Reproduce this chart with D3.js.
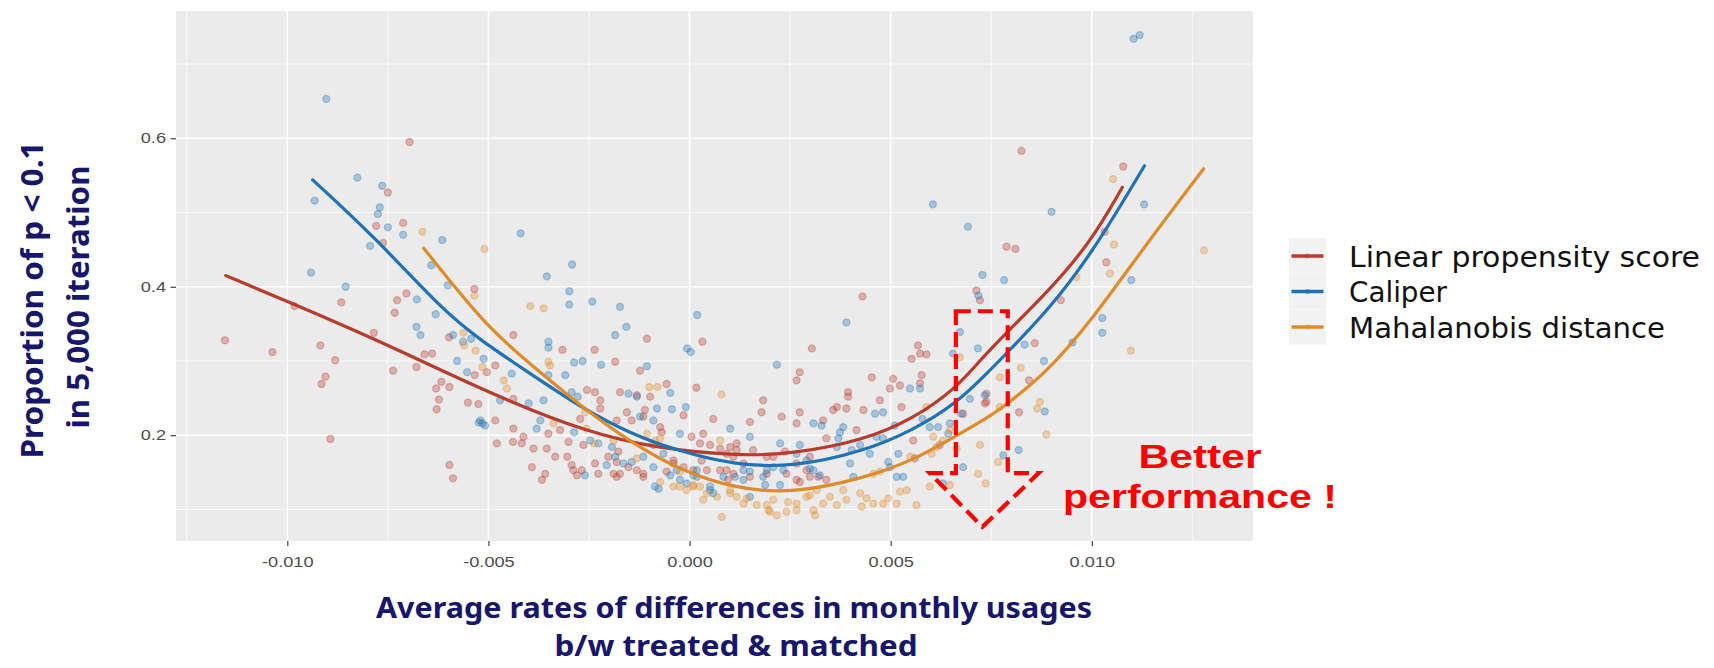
<!DOCTYPE html>
<html><head><meta charset="utf-8">
<script src="https://cdn.jsdelivr.net/npm/d3@7"></script>
<style>body{margin:0;background:#fff}</style>
</head><body>
<svg id="chart" width="1714" height="668"></svg>
<script>
// ---------- data ----------
const seriesNames = ["Linear propensity score", "Caliper", "Mahalanobis distance"];
const seriesColors = ["#B83B2E", "#1F72B5", "#E08B2A"];

const xTicks = [-0.010, -0.005, 0.000, 0.005, 0.010];
const xTickLabels = ["-0.010", "-0.005", "0.000", "0.005", "0.010"];
const xMinorTicks = [-0.0125, -0.0075, -0.0025, 0.0025, 0.0075, 0.0125];
const yTicks = [0.2, 0.4, 0.6];
const yTickLabels = ["0.2", "0.4", "0.6"];
const yMinorTicks = [0.1, 0.3, 0.5, 0.7];

const xTitle = ["Average rates of differences in monthly usages", "b/w treated & matched"];
const yTitle = ["Proportion of p < 0.1", "in 5,000 iteration"];
const noteText = ["Better", "performance !"];

const linearPoints = [
[-0.00696,0.595],[-0.0075,0.527],[-0.00779,0.482],[-0.00762,0.459],[-0.00712,0.486],[-0.01155,0.328],[-0.01037,0.312],[-0.00918,0.321],[-0.00881,0.301],[-0.00905,0.279],[-0.00915,0.269],[-0.00866,0.379],[-0.00893,0.195],[-0.00785,0.338],[-0.00727,0.382],[-0.00704,0.391],[-0.00733,0.365],[-0.00737,0.287],[-0.00679,0.292],[-0.00659,0.309],[-0.0064,0.310],[-0.00617,0.272],[-0.0063,0.263],[-0.00597,0.265],[-0.00623,0.248],[-0.00629,0.235],[-0.00551,0.244],[-0.00525,0.242],[-0.00534,0.281],[-0.00597,0.160],[-0.00588,0.142],[-0.00535,0.397],[-0.00982,0.374],[-0.00598,0.332],
[-0.00106,0.330],[0.00032,0.326],[-0.00316,0.315],[-0.00236,0.315],[-0.00185,0.299],[-0.00123,0.287],[-0.00057,0.269],[0.00017,0.264],
[-0.00438,0.335],[-0.00483,0.294],[-0.00504,0.285],[-0.00438,0.249],[-0.00483,0.220],[-0.00438,0.209],[-0.00413,0.198],[-0.00479,0.189],[-0.00439,0.191],[-0.00417,0.189],[-0.00388,0.182],[-0.00355,0.182],[-0.00334,0.171],[-0.00351,0.202],[-0.00322,0.207],[-0.00301,0.191],[-0.00304,0.171],[-0.00272,0.222],[-0.00255,0.261],[-0.00235,0.258],[-0.00222,0.247],[-0.00222,0.236],[-0.00264,0.187],[-0.00293,0.160],[-0.00289,0.153],[-0.00268,0.153],[-0.0028,0.146],[-0.00392,0.157],[-0.00359,0.148],[-0.00367,0.140],[-0.00235,0.162],[-0.00227,0.148],[-0.00202,0.171],[-0.00181,0.164],[-0.00173,0.148],[-0.00181,0.144],[-0.00152,0.157],[-0.00131,0.153],[-0.00115,0.148],[-0.00144,0.220],[-0.00156,0.231],[-0.00111,0.234],[-0.00115,0.225],[-0.00181,0.220],[-0.00173,0.258],[-0.00131,0.254],[-0.00098,0.252],[-0.00073,0.211],[-0.00069,0.204],[-0.0009,0.187],[-0.00015,0.227],[0.00005,0.198],[0.00026,0.189],[0.00051,0.187],[0.00076,0.182],[0.00092,0.175],[0.00109,0.171],[0.00059,0.222],[0.0003,0.166],[-0.00015,0.157],[0.00009,0.153],[-0.00057,0.151],[-0.0004,0.162],[0.00043,0.153],[0.00092,0.153],[0.00096,0.140],[-0.00177,0.178],
[0.00304,0.317],[0.00274,0.285],[0.00266,0.274],[0.00183,0.247],[0.00179,0.231],[0.0015,0.218],[0.00229,0.225],[0.00266,0.216],[0.00274,0.231],[0.00332,0.220],[0.0034,0.196],[0.00357,0.234],[0.00366,0.238],[0.0039,0.236],[0.00394,0.258],[0.00394,0.252],[0.00432,0.234],[0.00473,0.247],[0.00415,0.207],[0.00453,0.278],[0.00506,0.276],[0.00523,0.267],[0.00498,0.263],[0.00552,0.303],[0.00568,0.321],[0.00573,0.310],[0.00589,0.309],[0.00577,0.281],[0.00573,0.270],[0.00527,0.238],[0.0034,0.140],[0.00556,0.193],[0.0056,0.169],[0.00622,0.187],[0.0068,0.229],[0.00738,0.245],[0.00101,0.184],[0.00117,0.180],[0.00158,0.180],[0.00208,0.171],[0.00237,0.178],[0.00241,0.148],[0.00291,0.153],[0.00299,0.144],[0.00274,0.137],[0.00192,0.148],[0.0015,0.144],[0.00134,0.162],[0.0032,0.144],
[0.00825,0.583],[0.01078,0.562],[0.00788,0.454],[0.0081,0.451],[0.01036,0.433],[0.00923,0.382],[0.00858,0.324],[0.00844,0.274],[0.00819,0.231],[0.00734,0.243],[0.00722,0.382],[0.01032,0.474],
[0.00738,0.256],[0.00713,0.395],[0.0043,0.387],
[0.00117,0.189],[0.00034,0.202],[0.00192,0.171],[0.00299,0.171],[0.00266,0.162],[-0.00115,0.144],[-0.0004,0.166],[0.00076,0.153],[0.00109,0.148],[-0.00189,0.148],[0.00266,0.140]
];

const caliperPoints = [
[-0.00903,0.653],[-0.00826,0.547],[-0.00932,0.516],[-0.00764,0.536],[-0.0077,0.507],[-0.00775,0.498],[-0.0075,0.480],[-0.00712,0.470],[-0.00794,0.455],[-0.00615,0.463],[-0.00642,0.429],[-0.00941,0.419],[-0.00855,0.400],[-0.00601,0.402],[-0.00678,0.383],[-0.00631,0.363],[-0.00679,0.346],[-0.00669,0.335],[-0.00588,0.335],[-0.00563,0.326],[-0.00543,0.330],[-0.00578,0.300],[-0.00553,0.285],[-0.00524,0.217],[-0.00515,0.216],
[-0.0042,0.472],[-0.00355,0.414],[-0.00292,0.430],[-0.00299,0.394],[-0.00299,0.376],[-0.00242,0.380],[-0.00173,0.373],[-0.00157,0.346],[-0.00185,0.335],[0.00019,0.362],[-0.00006,0.317],[0.00003,0.312],[-0.00106,0.293],[-0.00351,0.326],[-0.00351,0.318],[-0.00287,0.298],[-0.00266,0.300],[-0.0022,0.295],
[-0.00309,0.281],[-0.00351,0.281],[-0.00442,0.283],[-0.00512,0.303],[-0.00363,0.247],[-0.004,0.243],[-0.00471,0.247],[-0.0052,0.220],[-0.00508,0.213],[-0.00293,0.258],[-0.00278,0.252],[-0.00152,0.256],[-0.00131,0.252],[-0.00081,0.236],[-0.00044,0.235],[-0.00009,0.238],[-0.00048,0.257],[-0.00371,0.220],[-0.0038,0.209],[-0.00287,0.204],[-0.00247,0.193],[-0.00227,0.189],[-0.00193,0.184],[-0.00185,0.171],[-0.00206,0.160],[-0.00164,0.162],[-0.00144,0.164],[-0.0009,0.157],[-0.00086,0.131],[-0.00077,0.128],[-0.00048,0.146],[-0.00024,0.140],[-0.00007,0.135],[0.00018,0.144],[0.00051,0.131],[0.00059,0.122],[-0.00024,0.202],[0.00101,0.209],[-0.0026,0.146],[0.00018,0.153],[0.00084,0.144],
[0.00217,0.295],[0.0015,0.198],[0.00308,0.216],[0.00328,0.213],[0.00374,0.204],[0.00382,0.211],[0.0037,0.196],[0.00366,0.184],[0.00403,0.180],[0.00424,0.187],[0.00448,0.175],[0.00465,0.198],[0.00481,0.196],[0.00461,0.229],[0.00481,0.231],[0.0051,0.213],[0.00519,0.175],[0.00494,0.164],[0.00498,0.157],[0.00531,0.144],[0.00515,0.144],[0.00548,0.263],[0.00573,0.263],[0.00579,0.222],[0.00597,0.211],[0.00618,0.211],[0.00647,0.216],[0.00676,0.229],[0.00697,0.249],[0.00655,0.310],[0.00672,0.339],[0.00717,0.317],[0.0068,0.157],[0.0063,0.135],[0.00225,0.189],[0.00274,0.187],[0.00266,0.175],[0.00291,0.166],[0.00308,0.153],[0.00233,0.153],[0.00208,0.157],[0.00183,0.144],[0.0015,0.151],[0.00134,0.140],[0.00113,0.144],[0.00188,0.133],[0.00225,0.133],[0.00324,0.146],[0.0015,0.117],[0.00399,0.162],[0.00407,0.144],
[0.01104,0.734],[0.01119,0.739],[0.009,0.501],[0.0113,0.511],[0.00728,0.416],[0.00782,0.409],[0.01098,0.409],[0.01026,0.358],[0.01026,0.338],[0.00833,0.322],[0.00881,0.300],[0.00952,0.325],[0.00883,0.232],[0.00818,0.180],[0.0078,0.173],[0.00734,0.254],
[0.00643,0.202],[0.00605,0.511],[0.00692,0.481],[0.00718,0.388],[0.0039,0.352],
[-0.00123,0.225],[-0.0009,0.220],[0.00051,0.126],[0.00009,0.146],[-0.00032,0.153],[0.00134,0.153],[0.00192,0.153],[0.00299,0.155],[-0.00115,0.171],[-0.00065,0.175]
];

const mahalanobisPoints = [
[-0.00664,0.474],[-0.0051,0.451],[-0.00535,0.388],[-0.00562,0.338],[-0.0056,0.321],[-0.00532,0.314],[-0.00515,0.292],
[-0.00396,0.374],[-0.00363,0.371],[-0.001,0.265],[-0.0008,0.265],[0.00079,0.255],
[-0.00351,0.299],[-0.00347,0.294],[-0.00462,0.274],[-0.00454,0.263],[-0.00338,0.216],[-0.0026,0.231],[-0.00106,0.202],[-0.00086,0.193],[-0.00073,0.196],[0.00076,0.193],[0.0008,0.090],[-0.00024,0.131],[0.00009,0.131],[0.00034,0.113],[0.00043,0.122],[0.00068,0.117],[0.00101,0.122],[0.00117,0.117],[-0.00024,0.151],[-0.00131,0.169],[-0.00189,0.193],
[0.00589,0.238],[0.00722,0.187],[0.00717,0.148],[0.00597,0.131],[0.00647,0.133],[0.00564,0.106],[0.00548,0.171],[0.00606,0.198],[0.00614,0.184],[0.0063,0.193],[0.00647,0.207],[0.00457,0.148],[0.00473,0.151],[0.00523,0.124],[0.0054,0.126],[0.00481,0.108],[0.00457,0.108],[0.00424,0.122],[0.0039,0.113],[0.00382,0.126],[0.00349,0.117],[0.00332,0.108],[0.00308,0.099],[0.00291,0.117],[0.00266,0.108],[0.00245,0.110],[0.00241,0.097],[0.00208,0.113],[0.00192,0.106],[0.002,0.097],[0.00167,0.106],[0.00134,0.108],[0.00217,0.092],[0.00312,0.092],[0.00366,0.106],[0.00428,0.104],[0.0044,0.115],[0.00494,0.115],[0.00515,0.108],[0.00101,0.126],[0.00316,0.126],[0.00664,0.182],
[0.01053,0.545],[0.01055,0.457],[0.01045,0.418],[0.01279,0.449],[0.01097,0.314],[0.00962,0.413],[0.00823,0.291],[0.00771,0.278],[0.00871,0.245],[0.00864,0.236],[0.00887,0.201],[0.00771,0.238],[0.00767,0.164],[0.00736,0.135],
[0.00602,0.175],[0.00672,0.305],
[-0.00256,0.209],[-0.00237,0.189],
[-0.00007,0.126],[0.00026,0.131],[0.00142,0.115],[0.00196,0.099],[0.00266,0.099],[0.00299,0.119],[-0.0004,0.131],[-0.00073,0.137],[0.00009,0.133]
];

const linearFit = [[-0.01153,0.415],[-0.00994,0.379],[-0.00746,0.321],[-0.00505,0.258],[-0.00247,0.202],[-0.00073,0.182],[0.00125,0.172],[0.00258,0.175],[0.00432,0.193],[0.00556,0.222],[0.00662,0.263],[0.00722,0.301],[0.00791,0.340],[0.00887,0.391],[0.00995,0.458],[0.01076,0.534]];
const caliperFit = [[-0.00937,0.544],[-0.00779,0.465],[-0.00613,0.368],[-0.0052,0.328],[-0.00396,0.283],[-0.00272,0.238],[-0.00148,0.202],[-0.00024,0.178],[0.00113,0.160],[0.00258,0.157],[0.00432,0.178],[0.00556,0.207],[0.00662,0.242],[0.00746,0.287],[0.00791,0.312],[0.00887,0.366],[0.00995,0.440],[0.01131,0.563]];
const mahalanobisFit = [[-0.00661,0.452],[-0.00505,0.346],[-0.00396,0.296],[-0.00272,0.240],[-0.00148,0.191],[-0.00024,0.153],[0.00113,0.128],[0.00258,0.1215],[0.00432,0.142],[0.00556,0.166],[0.00662,0.199],[0.00746,0.225],[0.00791,0.243],[0.00887,0.284],[0.01003,0.357],[0.01136,0.458],[0.01278,0.559]];

// annotation arrow outline (data units)
const arrowOutline = [[0.00662,0.367],[0.00791,0.367],[0.00791,0.149],[0.00868,0.149],[0.00728,0.0767],[0.00597,0.149],[0.00662,0.149]];

// ---------- build ----------
const pointSets = [linearPoints, caliperPoints, mahalanobisPoints];
const fitSets = [linearFit, caliperFit, mahalanobisFit];

const svg = d3.select("#chart");
svg.append("rect").attr("width", 1714).attr("height", 668).attr("fill", "#fff");

const P = {left: 176, right: 1253, top: 11, bottom: 541};

const allPts = pointSets.flat();
const xe = d3.extent(allPts, d => d[0]);
const ye = d3.extent(allPts, d => d[1]);
const xr = xe[1] - xe[0], yr = ye[1] - ye[0];
const x = d3.scaleLinear().domain([xe[0] - 0.05 * xr, xe[1] + 0.05 * xr]).range([P.left, P.right]);
const y = d3.scaleLinear().domain([ye[0] - 0.05 * yr, ye[1] + 0.05 * yr]).range([P.bottom, P.top]);

function stretch(sel, f) {
  sel.each(function () {
    const L = this.getComputedTextLength();
    d3.select(this).attr("textLength", L * f).attr("lengthAdjust", "spacingAndGlyphs");
  });
}
function fit(sel, w) { sel.attr("textLength", w).attr("lengthAdjust", "spacingAndGlyphs"); }

// panel
svg.append("rect").attr("x", P.left).attr("y", P.top)
  .attr("width", P.right - P.left).attr("height", P.bottom - P.top).attr("fill", "#EBEBEB");

const grid = svg.append("g");
grid.selectAll(".xminor").data(xMinorTicks).join("line")
  .attr("x1", d => x(d)).attr("x2", d => x(d)).attr("y1", P.top).attr("y2", P.bottom)
  .attr("stroke", "#fff").attr("stroke-width", 0.8);
grid.selectAll(".yminor").data(yMinorTicks).join("line")
  .attr("y1", d => y(d)).attr("y2", d => y(d)).attr("x1", P.left).attr("x2", P.right)
  .attr("stroke", "#fff").attr("stroke-width", 0.8);
grid.selectAll(".xmajor").data(xTicks).join("line")
  .attr("x1", d => x(d)).attr("x2", d => x(d)).attr("y1", P.top).attr("y2", P.bottom)
  .attr("stroke", "#fff").attr("stroke-width", 1.6);
grid.selectAll(".ymajor").data(yTicks).join("line")
  .attr("y1", d => y(d)).attr("y2", d => y(d)).attr("x1", P.left).attr("x2", P.right)
  .attr("stroke", "#fff").attr("stroke-width", 1.6);

// points
pointSets.forEach((pts, i) => {
  svg.append("g").selectAll("circle").data(pts).join("circle")
    .attr("cx", d => x(d[0])).attr("cy", d => y(d[1])).attr("r", 3.5)
    .attr("fill", seriesColors[i]).attr("fill-opacity", 0.33)
    .attr("stroke", seriesColors[i]).attr("stroke-opacity", 0.33).attr("stroke-width", 1.3);
});

// fit lines
const line = d3.line().x(d => x(d[0])).y(d => y(d[1])).curve(d3.curveBasis);
fitSets.forEach((f, i) => {
  svg.append("path").datum(f).attr("d", line).attr("fill", "none")
    .attr("stroke", seriesColors[i]).attr("stroke-width", 3.2).attr("stroke-linecap", "round");
});

// axes
const xAxis = svg.append("g").attr("transform", `translate(0,${P.bottom})`)
  .call(d3.axisBottom(x).tickValues(xTicks).tickFormat((d, i) => xTickLabels[i]).tickSize(5).tickPadding(11));
const yAxis = svg.append("g").attr("transform", `translate(${P.left},0)`)
  .call(d3.axisLeft(y).tickValues(yTicks).tickFormat((d, i) => yTickLabels[i]).tickSize(5.5).tickPadding(4.5));
[xAxis, yAxis].forEach(a => {
  a.select(".domain").remove();
  a.selectAll(".tick line").attr("stroke", "#333").attr("stroke-width", 1.1);
  a.selectAll(".tick text").attr("fill", "#4D4D4D").attr("font-family", "'Liberation Sans', Arial, sans-serif").attr("font-size", 14);
});
stretch(xAxis.selectAll(".tick text"), 1.3);
stretch(yAxis.selectAll(".tick text"), 1.3);

// axis titles
const navy = "#17166B";
const xt1 = svg.append("text").attr("x", 734).attr("y", 618).attr("text-anchor", "middle")
  .attr("font-family", "'Noto Sans', sans-serif").attr("font-weight", "bold").attr("font-size", 28).attr("fill", navy).text(xTitle[0]);
fit(xt1, 716);
const xt2 = svg.append("text").attr("x", 736).attr("y", 656).attr("text-anchor", "middle")
  .attr("font-family", "'Noto Sans', sans-serif").attr("font-weight", "bold").attr("font-size", 28).attr("fill", navy).text(xTitle[1]);
fit(xt2, 363);
const yt1 = svg.append("text").attr("transform", "translate(43,300) rotate(-90)").attr("text-anchor", "middle")
  .attr("font-family", "'Noto Sans', sans-serif").attr("font-weight", "bold").attr("font-size", 31).attr("fill", navy).text(yTitle[0]);
fit(yt1, 317);
const yt2 = svg.append("text").attr("transform", "translate(88.5,297) rotate(-90)").attr("text-anchor", "middle")
  .attr("font-family", "'Noto Sans', sans-serif").attr("font-weight", "bold").attr("font-size", 31).attr("fill", navy).text(yTitle[1]);
fit(yt2, 263);

// legend
const legendRowY = [256, 291.5, 327];
const legendTextW = [351, 98, 316];
const lg = svg.append("g");
seriesNames.forEach((name, i) => {
  const cy = legendRowY[i];
  lg.append("rect").attr("x", 1289).attr("y", cy - 17.5).attr("width", 37).attr("height", 35).attr("fill", "#F2F2F2");
  lg.append("line").attr("x1", 1291.5).attr("x2", 1323.5).attr("y1", cy).attr("y2", cy)
    .attr("stroke", seriesColors[i]).attr("stroke-width", 3.6);
  lg.append("circle").attr("cx", 1307.5).attr("cy", cy).attr("r", 2.4).attr("fill", seriesColors[i]).attr("opacity", 0.6);
  const t = lg.append("text").attr("x", 1349).attr("y", cy + 10.5)
    .attr("font-family", "'DejaVu Sans', Verdana, sans-serif").attr("font-size", 29).attr("fill", "#111").text(name);
  fit(t, legendTextW[i]);
});

// annotation
svg.append("path").datum(arrowOutline)
  .attr("d", d3.line().x(d => x(d[0])).y(d => y(d[1])).curve(d3.curveLinearClosed))
  .attr("fill", "none").attr("stroke", "#FF0000").attr("stroke-width", 4.2)
  .attr("stroke-dasharray", "15,7").attr("stroke-linejoin", "miter");
const n1 = svg.append("text").attr("x", 1200).attr("y", 468).attr("text-anchor", "middle")
  .attr("font-family", "'Liberation Sans', Arial, sans-serif").attr("font-weight", "bold").attr("font-size", 33).attr("fill", "#FF0000").text(noteText[0]);
fit(n1, 123);
const n2 = svg.append("text").attr("x", 1200).attr("y", 508).attr("text-anchor", "middle")
  .attr("font-family", "'Liberation Sans', Arial, sans-serif").attr("font-weight", "bold").attr("font-size", 33).attr("fill", "#FF0000").text(noteText[1]);
fit(n2, 274);
</script>
</body></html>
